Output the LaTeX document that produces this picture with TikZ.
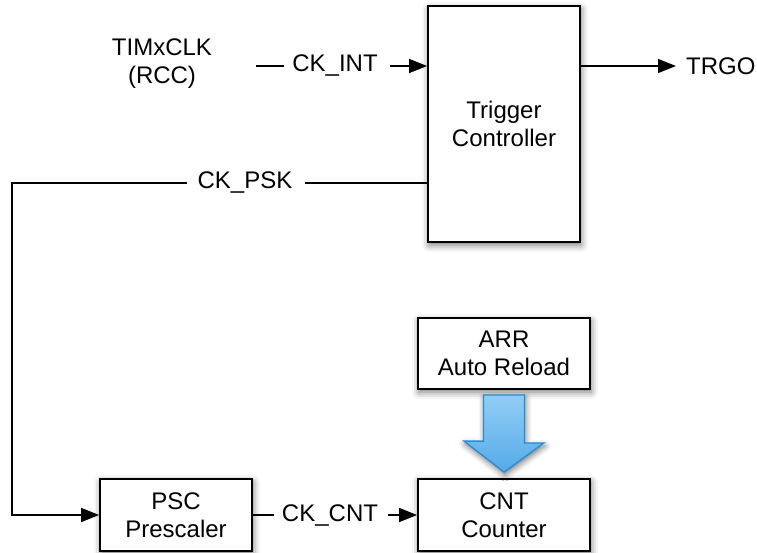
\documentclass[tikz,border=0pt]{standalone}
\usepackage{fontspec}
\setmainfont{Liberation Sans}
\usetikzlibrary{arrows.meta,shadows.blur}

\begin{document}
\begin{tikzpicture}[x=1pt,y=-1pt,>={Triangle[length=18pt,width=14pt]},
  every node/.style={font=\fontsize{24pt}{28pt}\selectfont},
  blk/.style={draw,line width=1.8pt,fill=white,align=center,
    blur shadow={shadow xshift=1pt,shadow yshift=-3pt,shadow blur radius=7pt,shadow opacity=55}},
  lbl/.style={inner sep=0pt,align=center},
  wire/.style={line width=1.4pt}]
\useasboundingbox (0,0) rectangle (757,552);
% blocks
\node[blk,minimum width=152pt,minimum height=236pt] (trig) at (504,124) {Trigger\\Controller};
\node[blk,minimum width=172pt,minimum height=71pt] (arr) at (504,353.5) {ARR\\Auto Reload};
\node[blk,minimum width=172pt,minimum height=72pt] (cnt) at (504,515) {CNT\\Counter};
\node[blk,minimum width=152pt,minimum height=72pt] (psc) at (176,515) {PSC\\Prescaler};
% signal labels
\node[lbl] (clk) at (162,64) {TIMxCLK\\(RCC)};
\node[lbl] (ckint) at (335,66) {CK\_INT};
\node[lbl,anchor=west] (trgo) at (686,66) {TRGO};
\node[lbl] (ckpsk) at (245,183) {CK\_PSK};
\node[lbl] (ckcnt) at (330,515) {CK\_CNT};
\coordinate (stub) at (256,66);
\coordinate (corner) at (12,183);
% wires
\draw[wire,shorten >=8pt] (stub)--(ckint.west);
\draw[wire,->,shorten <=12pt] (ckint.east)--(trig.west |- ckint);
\draw[wire,->,shorten >=10pt] (trig.east |- ckint)--(trgo.west);
\draw[wire,shorten >=12pt] (trig.west |- ckpsk)--(ckpsk.east);
\draw[wire,->,shorten <=10pt] (ckpsk.west)--(corner)|-(psc.west);
\draw[wire,shorten >=8pt] (psc.east)--(ckcnt.west);
\draw[wire,->,shorten <=10pt] (ckcnt.east)--(cnt.west);
% reload arrow
\draw[line width=1.3pt,draw={rgb,255:red,40;green,140;blue,210},
  top color={rgb,255:red,150;green,208;blue,246},bottom color={rgb,255:red,85;green,170;blue,232},
  blur shadow={shadow xshift=1pt,shadow yshift=-3pt,shadow blur radius=6pt,shadow opacity=55}]
  ([xshift=-20.5pt]arr.south) ++(0,5) -- ++(41,0) -- ++(0,48) -- ++(19.5,0)
  -- ([yshift=6pt]cnt.north) -- ++(-40,-31) -- ++(19.5,0) -- cycle;
\end{tikzpicture}
\end{document}
